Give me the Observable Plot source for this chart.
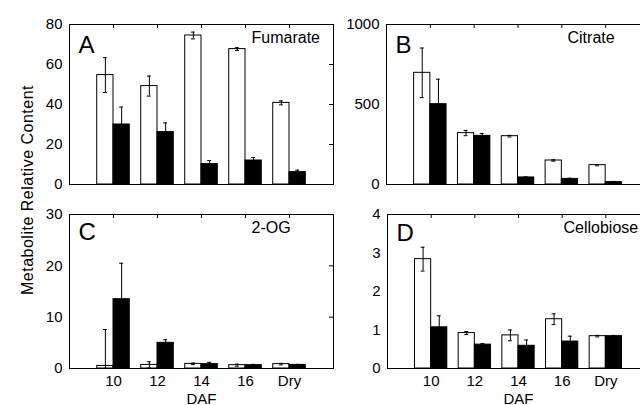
<!DOCTYPE html>
<html><head><meta charset="utf-8">
<script src="https://cdn.jsdelivr.net/npm/d3@7"></script>
<script src="https://cdn.jsdelivr.net/npm/@observablehq/plot@0.6"></script>
<style>
body{margin:0;background:#fff;}
#wrap{position:relative;width:640px;height:405px;overflow:hidden;background:#fff;font-family:"Liberation Sans",Arial,Helvetica,sans-serif;color:#000;}
.panel{position:absolute;}
#ylab{position:absolute;left:28px;top:190px;transform:translate(-50%,-50%) rotate(-90deg);white-space:nowrap;font-size:16px;letter-spacing:0.5px;}
</style></head><body>
<div id="wrap"><div id="ylab">Metabolite Relative Content</div></div>
<script>
// Categories (days after flowering)
const days = ["10", "12", "14", "16", "Dry"];

// A: Fumarate
const fumarateWhite    = [54.7, 49.2, 74.5, 67.7, 40.8];
const fumarateWhiteErr = [8.7, 5.0, 1.7, 0.7, 1.0];
const fumarateBlack    = [30.0, 26.2, 10.2, 12.0, 6.2];
const fumarateBlackErr = [8.7, 4.6, 1.8, 1.5, 1.0];

// B: Citrate
const citrateWhite    = [698, 321, 302, 150, 121];
const citrateWhiteErr = [155, 16, 5, 4, 4];
const citrateBlack    = [502, 304, 44, 35, 15];
const citrateBlackErr = [156, 15, 4, 4, 4];

// C: 2-OG
const ogWhite    = [0.5, 0.7, 0.9, 0.65, 0.85];
const ogWhiteErr = [7.1, 0.6, 0.15, 0.2, 0.15];
const ogBlack    = [13.5, 5.0, 0.85, 0.65, 0.7];
const ogBlackErr = [7.0, 0.6, 0.35, 0.15, 0.1];

// D: Cellobiose
const cellWhite    = [2.84, 0.92, 0.86, 1.28, 0.84];
const cellWhiteErr = [0.31, 0.04, 0.14, 0.14, 0.02];
const cellBlack    = [1.07, 0.62, 0.59, 0.70, 0.84];
const cellBlackErr = [0.30, 0.03, 0.15, 0.14, 0.02];

// Tick labels
const ticksA = [0, 20, 40, 60, 80];
const ticksB = [0, 500, 1000];
const ticksC = [0, 10, 20, 30];
const ticksD = [0, 1, 2, 3, 4];

const FONT = '"Liberation Sans", Arial, Helvetica, sans-serif';

function panel(o) {
  const rows = days.map((d, i) => ({
    i: i + 1, day: d,
    w: o.white[i], we: o.whiteErr[i],
    b: o.black[i], be: o.blackErr[i]
  }));
  const bw = 0.37, cap = 0.045;
  const frameW = o.width - o.mL - o.mR;
  const frameH = o.height - o.mT - o.mB;
  const wc = d => d.i - bw / 2, bc = d => d.i + bw / 2;
  const lo = (v, e) => Math.max(0, v - e);
  const marks = [
    Plot.rect(rows, {x1: d => d.i - bw, x2: d => d.i, y1: 0, y2: d => d.w, fill: "white", stroke: "black", strokeWidth: 1}),
    Plot.rect(rows, {x1: d => d.i, x2: d => d.i + bw, y1: 0, y2: d => d.b, fill: "black", stroke: "black", strokeWidth: 1}),
    // error bars (white series)
    Plot.ruleX(rows, {x: wc, y1: d => lo(d.w, d.we), y2: d => d.w + d.we, stroke: "black", strokeWidth: 1}),
    Plot.ruleY(rows, {y: d => d.w + d.we, x1: d => wc(d) - cap, x2: d => wc(d) + cap, stroke: "black", strokeWidth: 1}),
    Plot.ruleY(rows.filter(d => d.w - d.we > 0), {y: d => d.w - d.we, x1: d => wc(d) - cap, x2: d => wc(d) + cap, stroke: "black", strokeWidth: 1}),
    // error bars (black series)
    Plot.ruleX(rows, {x: bc, y1: d => lo(d.b, d.be), y2: d => d.b + d.be, stroke: "black", strokeWidth: 1}),
    Plot.ruleY(rows, {y: d => d.b + d.be, x1: d => bc(d) - cap, x2: d => bc(d) + cap, stroke: "black", strokeWidth: 1}),
    Plot.frame({stroke: "black", strokeWidth: 1}),
    Plot.axisY(o.ticks, {anchor: "left", tickSize: 0, tickPadding: 7, fontSize: 15, tickFormat: d3.format("d"), label: null}),
    Plot.tickY(o.ticks, {y: d => d, insetLeft: frameW - 4, stroke: "black"}),
    Plot.tickX([1, 2, 3, 4, 5], {x: d => d, insetBottom: frameH - 4, stroke: "black"}),
    Plot.text([o.letter], {text: d => d, frameAnchor: "top-left", dx: 9, dy: o.letterDy, textAnchor: "start", lineAnchor: "top", fontSize: 24}),
    Plot.text([o.name], {text: d => d, frameAnchor: "top-left", dx: o.nameDx, dy: 7, textAnchor: "start", lineAnchor: "top", fontSize: 16})
  ];
  if (o.xAxis) {
    marks.push(Plot.axisX([1, 2, 3, 4, 5], {tickFormat: d => days[d - 1], tickSize: 0, tickPadding: 7, fontSize: 15, label: null}));
    marks.push(Plot.text(["DAF"], {text: d => d, frameAnchor: "bottom", dy: 25, lineAnchor: "top", fontSize: 15}));
  }
  const svg = Plot.plot({
    width: o.width, height: o.height,
    marginLeft: o.mL, marginRight: o.mR, marginTop: o.mT, marginBottom: o.mB,
    x: {domain: [0, 6], axis: null},
    y: {domain: [0, o.yMax], axis: null},
    style: {fontFamily: FONT, fontSize: "15px", color: "black", background: "transparent", overflow: "visible"},
    marks
  });
  svg.classList.add("panel");
  svg.style.left = o.left + "px";
  svg.style.top = o.top + "px";
  document.getElementById("wrap").appendChild(svg);
}

panel({white: fumarateWhite, whiteErr: fumarateWhiteErr, black: fumarateBlack, blackErr: fumarateBlackErr,
  yMax: 80, ticks: ticksA, letter: "A", name: "Fumarate", letterDy: 11, nameDx: 182,
  left: 0, top: 0, width: 340, height: 195, mL: 69, mR: 7, mT: 24, mB: 11, xAxis: false});
panel({white: citrateWhite, whiteErr: citrateWhiteErr, black: citrateBlack, blackErr: citrateBlackErr,
  yMax: 1000, ticks: ticksB, letter: "B", name: "Citrate", letterDy: 11, nameDx: 181,
  left: 320, top: 0, width: 340, height: 195, mL: 66, mR: 11, mT: 24, mB: 11, xAxis: false});
panel({white: ogWhite, whiteErr: ogWhiteErr, black: ogBlack, blackErr: ogBlackErr,
  yMax: 30, ticks: ticksC, letter: "C", name: "2-OG", letterDy: 8, nameDx: 182,
  left: 0, top: 195, width: 340, height: 210, mL: 69, mR: 7, mT: 19, mB: 37, xAxis: true});
panel({white: cellWhite, whiteErr: cellWhiteErr, black: cellBlack, blackErr: cellBlackErr,
  yMax: 4, ticks: ticksD, letter: "D", name: "Cellobiose", letterDy: 9, nameDx: 176,
  left: 320, top: 195, width: 340, height: 210, mL: 67, mR: 11, mT: 19, mB: 37, xAxis: true});
</script>
</body></html>
